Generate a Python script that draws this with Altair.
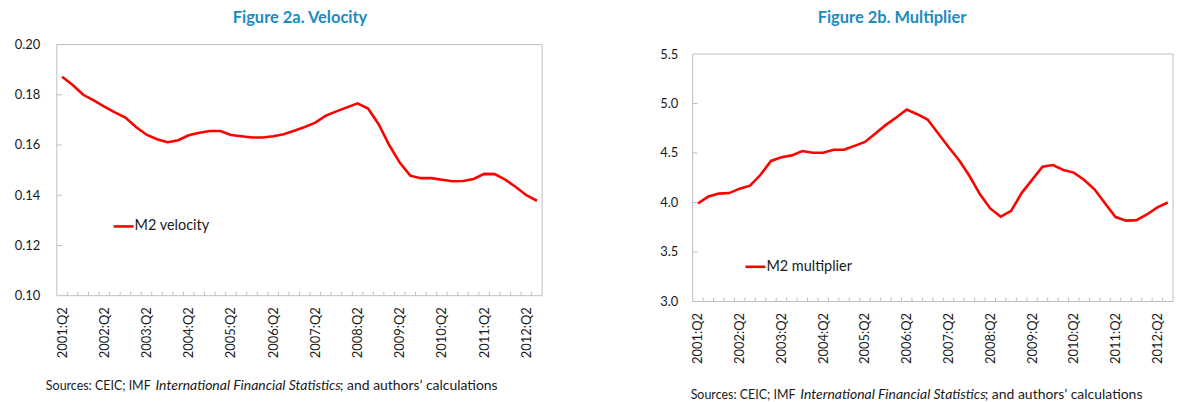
import json
import altair as alt
import pandas as pd

# ---------------- data ----------------
quarters = []
for yr in range(2001, 2013):
    for q in (1, 2, 3, 4):
        if (2001, 2) <= (yr, q) <= (2012, 3):
            quarters.append(f"{yr}:Q{q}")

tick_labels = ["2001:Q2", "2002:Q2", "2003:Q2", "2004:Q2", "2005:Q2", "2006:Q2",
               "2007:Q2", "2008:Q2", "2009:Q2", "2010:Q2", "2011:Q2", "2012:Q2"]

velocity = [0.1872, 0.1839, 0.1800, 0.1778, 0.1753, 0.1730, 0.1709, 0.1672, 0.1641, 0.1623,
            0.1611, 0.1619, 0.1639, 0.1649, 0.1656, 0.1656, 0.1640, 0.1635, 0.1630, 0.1630,
            0.1635, 0.1643, 0.1657, 0.1672, 0.1689, 0.1717, 0.1734, 0.1750, 0.1766, 0.1745,
            0.1683, 0.1600, 0.1530, 0.1478, 0.1468, 0.1468, 0.1462, 0.1456, 0.1457, 0.1465,
            0.1485, 0.1484, 0.1462, 0.1433, 0.1400, 0.1378]

multiplier = [3.99, 4.06, 4.09, 4.095, 4.14, 4.17, 4.28, 4.42, 4.457, 4.476,
              4.52, 4.503, 4.503, 4.533, 4.533, 4.572, 4.612, 4.697, 4.784, 4.859,
              4.939, 4.892, 4.838, 4.70, 4.56, 4.43, 4.27, 4.085, 3.94, 3.857,
              3.915, 4.095, 4.228, 4.362, 4.379, 4.329, 4.302, 4.228, 4.131, 3.99,
              3.853, 3.817, 3.822, 3.879, 3.95, 4.0]

yticks_velocity = [0.10, 0.12, 0.14, 0.16, 0.18, 0.20]
yticks_multiplier = [3.0, 3.5, 4.0, 4.5, 5.0, 5.5]

titles = ["Figure 2a. Velocity", "Figure 2b. Multiplier"]
legend_labels = ["M2 velocity", "M2 multiplier"]
src_a = "Sources: CEIC; IMF"
src_b = "International Financial Statistics"
src_c = "; and authors\u2019 calculations"

# ---------------- style ----------------
FONT = "Lato"
RED = "#FF0000"
FRAME = "#BFBFBF"
TITLE_COLOR = "#1A8CC0"
TEXT = "#1A1A1A"


def one_row(col, val):
    return pd.DataFrame({col: [val]})


def panel(values, yticks, fmt, title, legend_label, width, height, plot_top,
          title_x, y_extent, label_pad, leg_x, leg_y, src_x, src_y):
    n = len(quarters)
    df = pd.DataFrame({"i": list(range(n)), "quarter": quarters, "value": values})
    xscale = alt.Scale(domain=[-0.5, n - 0.5], nice=False, zero=False)
    yscale = alt.Scale(domain=[yticks[0], yticks[-1]], nice=False, zero=False,
                       range=[height, plot_top])
    tick_idx = [quarters.index(t) for t in tick_labels]
    label_expr = json.dumps(quarters) + "[datum.value]"

    x_enc = alt.X("i:Q", scale=xscale, title=None,
                  axis=alt.Axis(values=tick_idx, labelExpr=label_expr, labelAngle=270,
                                ticks=False, domain=False, grid=False, labelPadding=11,
                                labelFont=FONT, labelFontSize=13, labelColor=TEXT,
                                labelOverlap=False, labelFlush=False))
    y_enc = alt.Y("value:Q", scale=yscale, title=None,
                  axis=alt.Axis(values=yticks, format=fmt, ticks=False, domain=False,
                                grid=False, labelPadding=label_pad, labelFont=FONT,
                                labelFontSize=13, labelColor=TEXT, labelFlush=False,
                                minExtent=y_extent, maxExtent=y_extent))

    frame = alt.Chart(one_row("f", 0)).mark_rect(
        fillOpacity=0, stroke=FRAME, strokeWidth=1).encode(
        x=alt.value(0), x2=alt.value(width), y=alt.value(plot_top), y2=alt.value(height))

    line = alt.Chart(df).mark_line(color=RED, strokeWidth=2.6).encode(x=x_enc, y=y_enc)

    xb = pd.DataFrame({"i": [k + 0.5 for k in range(n - 1)]})
    xticks = alt.Chart(xb).mark_rule(color=FRAME, strokeWidth=1).encode(
        x=x_enc, y=alt.value(height), y2=alt.value(height - 4))

    yb = pd.DataFrame({"value": yticks[1:-1]})
    yticks_layer = alt.Chart(yb).mark_rule(color=FRAME, strokeWidth=1).encode(
        y=y_enc, x=alt.value(0), x2=alt.value(5))

    leg_line = alt.Chart(one_row("t", legend_label)).mark_rule(
        color=RED, strokeWidth=2.6).encode(
        x=alt.value(leg_x), x2=alt.value(leg_x + 20), y=alt.value(leg_y))
    leg_text = alt.Chart(one_row("t", legend_label)).mark_text(
        align="left", baseline="middle", font=FONT, fontSize=14.5, color=TEXT).encode(
        x=alt.value(leg_x + 21), y=alt.value(leg_y), text="t:N")

    title_layer = alt.Chart(one_row("t", title)).mark_text(
        align="center", baseline="middle", font=FONT, fontSize=16.5, fontWeight="bold",
        color=TITLE_COLOR).encode(x=alt.value(title_x), y=alt.value(-26.5), text="t:N")

    srcs = []
    for txt, dx, style, size in [(src_a, src_x[0], "normal", 12.5),
                                 (src_b, src_x[1], "italic", 14),
                                 (src_c, src_x[2], "normal", 14)]:
        srcs.append(alt.Chart(one_row("t", txt)).mark_text(
            align="left", baseline="middle", font=FONT, fontSize=size,
            fontStyle=style, color=TEXT).encode(
            x=alt.value(dx), y=alt.value(src_y), text="t:N"))

    return alt.layer(frame, line, xticks, yticks_layer, leg_line, leg_text,
                     title_layer, *srcs).properties(width=width, height=height)


left = panel(velocity, yticks_velocity, ".2f", titles[0], legend_labels[0],
             width=487, height=252, plot_top=0, title_x=244, y_extent=48, label_pad=17,
             leg_x=57, leg_y=182.5, src_x=(-11, 99, 284), src_y=343)

right = panel(multiplier, yticks_multiplier, ".1f", titles[1], legend_labels[1],
              width=482, height=257.8, plot_top=9.5, title_x=200, y_extent=40, label_pad=15,
              leg_x=53, leg_y=223, src_x=(-2, 108, 293), src_y=351.5)

chart = alt.hconcat(left, right, spacing=109).properties(
    padding={"top": 1, "left": 0, "right": 0, "bottom": 0}).configure_view(
    stroke="transparent")

chart.save("out.html", embed_options={"renderer": "svg", "actions": False})
